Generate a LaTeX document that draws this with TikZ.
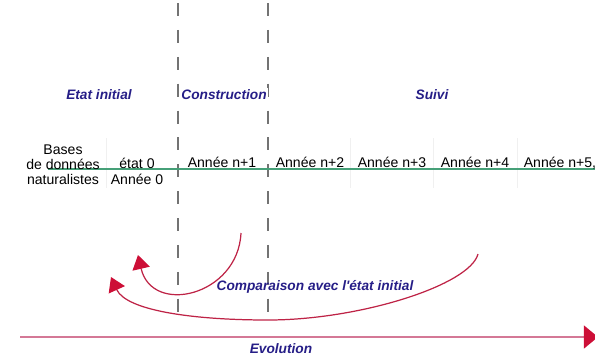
\documentclass[tikz,border=0pt]{standalone}
\usepackage{fontspec}
\setmainfont{Liberation Sans}
\usetikzlibrary{positioning,arrows.meta}
\definecolor{phaseblue}{RGB}{38,30,135}
\definecolor{timegreen}{RGB}{70,160,120}
\definecolor{cmpred}{RGB}{190,35,70}
\definecolor{tipred}{RGB}{205,15,55}
\definecolor{evopink}{RGB}{212,120,150}

\begin{document}
\begin{tikzpicture}[x=0.02cm, y=-0.02cm,
  every node/.style={font=\fontsize{8}{9}\selectfont, inner sep=1pt},
  phase/.style={text=phaseblue, font=\fontsize{7.8}{9}\selectfont\bfseries\itshape},
  year/.style={anchor=base},
  divider/.style={draw=black!55, line width=0.8pt, dash pattern=on 7.4pt off 7.9pt},
  cellsep/.style={draw=black!6, line width=0.4pt},
  back/.style={draw=cmpred, line width=0.7pt, -{Triangle[length=8pt,width=10pt,color=tipred]}}]
  \useasboundingbox (0,0) rectangle (595,356);
  % phase limits
  \coordinate (d1t) at (178,3);   \coordinate (d1b) at (178,320);
  \coordinate (d2t) at (268,3);   \coordinate (d2b) at (268,320);
  \draw[divider] (d1t) -- (d1b);
  \draw[divider] (d2t) -- (d2b);
  % faint table borders
  \foreach \x in {106,350,433,517}
    \draw[cellsep] (\x,138) -- (\x,188);
  % time line
  \coordinate (tl0) at (48,169);
  \coordinate (tl1) at (595,169);
  \draw[timegreen, line width=0.8pt] (tl0) -- (tl1);
  % phases
  \node[phase] (init) at (99,95) {Etat initial};
  \node[phase, fill=white] (constr) at (224,95) {Construction};
  \node[phase] (suivi) at (432,95) {Suivi};
  % table
  \node[align=center, font=\fontsize{8}{8.6}\selectfont] (bases) at (63,164.5) {Bases\\de données\\naturalistes};
  \node[align=center, font=\fontsize{8}{9}\selectfont] (etat) at (137,171) {état 0\\Année 0};
  \node[year] (n1) at (222,167) {Année n+1};
  \node[year] (n2) at (310,167) {Année n+2};
  \node[year] (n3) at (392,167) {Année n+3};
  \node[year] (n4) at (475,167) {Année n+4};
  \node[year] (n5) at (560,167) {Année n+5,};
  % comparison
  \node[phase] (cmp) at (315,287) {Comparaison avec l\textquotesingle état initial};
  \coordinate (c1s) at (241,233);
  \coordinate (c1e) at (138,255);
  \coordinate (c2s) at (478,254);
  \coordinate (c2e) at (111,277);
  \draw[back] (c1s) .. controls (238,296) and (152,316) .. (c1e);
  \draw[back] (c2s) .. controls (470,285) and (360,320) .. (268,320)
    .. controls (190,320) and (126,310) .. (c2e);
  % evolution
  \coordinate (evs) at (20,337);
  \coordinate (eve) at (598,337);
  \draw[evopink, line width=1pt, -{Triangle[length=8pt,width=13pt,color=tipred]}] (evs) -- (eve);
  \node[phase] (evo) at (281,349) {Evolution};
\end{tikzpicture}
\end{document}
